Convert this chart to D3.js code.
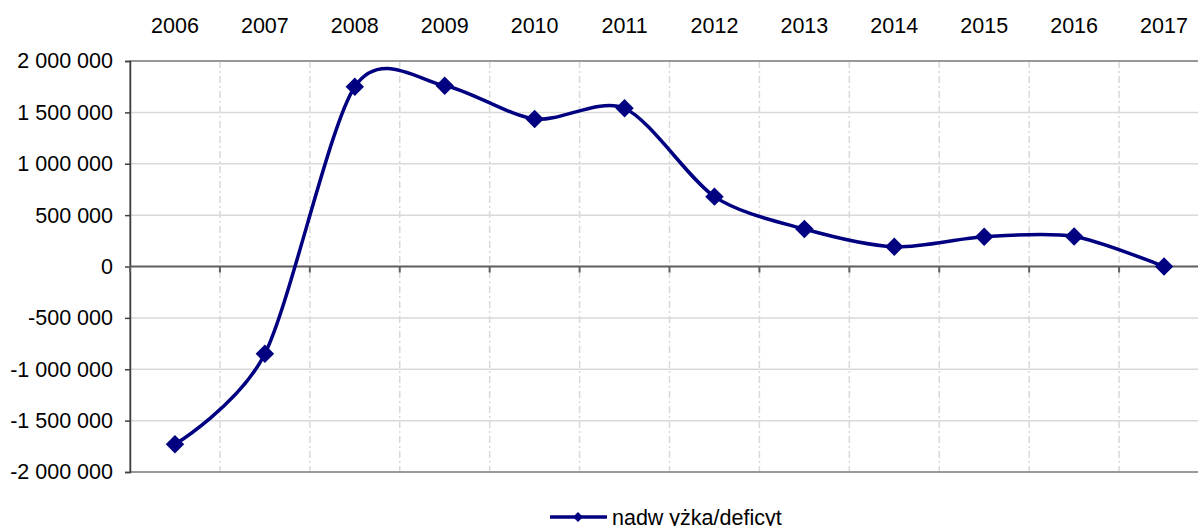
<!DOCTYPE html>
<html>
<head>
<meta charset="utf-8">
<script src="https://cdn.jsdelivr.net/npm/d3@7"></script>
<style>
  body { margin: 0; background: #fff; overflow: hidden; }
  text { font-family: "Liberation Sans", Arial, sans-serif; fill: #000; }
</style>
</head>
<body>
<script>
// data
var years = ["2006", "2007", "2008", "2009", "2010", "2011", "2012", "2013", "2014", "2015", "2016", "2017"];
var values = [-1730000, -850000, 1750000, 1760000, 1435000, 1540000, 680000, 365000, 192000, 290000, 292000, 0];
var yTicks = [-2000000, -1500000, -1000000, -500000, 0, 500000, 1000000, 1500000, 2000000];
var seriesName = "nadw yżka/deficyt";

var width = 1198, height = 526;
var margin = {top: 61, left: 130, right: -11, bottom: 54};
var innerWidth = width - margin.left - margin.right;
var innerHeight = height - margin.top - margin.bottom;
var navy = "#000080";

var svg = d3.select("body").append("svg")
    .attr("width", width)
    .attr("height", height);

const g = svg.append("g")
    .attr("transform", "translate(" + margin.left + "," + margin.top + ")");

//Scales
var x = d3.scaleBand().domain(years).range([0, innerWidth]);
var y = d3.scaleLinear().domain([-2000000, 2000000]).range([innerHeight, 0]);

var fmt = d3.formatLocale({decimal: ",", thousands: " ", grouping: [3], currency: ["", ""], minus: "-"}).format(",");

//Gridlines
g.append("g").selectAll("line").data(yTicks).enter().append("line")
    .attr("x1", 0).attr("x2", innerWidth)
    .attr("y1", d => y(d)).attr("y2", d => y(d))
    .attr("stroke", "#d9d9d9").attr("stroke-width", 1.5);

g.append("g").selectAll("line").data(years.slice(1)).enter().append("line")
    .attr("x1", d => x(d)).attr("x2", d => x(d))
    .attr("y1", 0).attr("y2", innerHeight)
    .attr("stroke", "#d9d9d9").attr("stroke-width", 1.5)
    .attr("stroke-dasharray", "7,3,2,3");

//Plot border
g.append("rect")
    .attr("width", innerWidth).attr("height", innerHeight)
    .attr("fill", "none").attr("stroke", "#808080").attr("stroke-width", 1.5);

//Y axis
var yAxis = g.append("g")
    .call(d3.axisLeft(y).tickValues(yTicks).tickSize(5).tickPadding(12).tickFormat(fmt));
yAxis.select(".domain").attr("stroke", "#404040").attr("stroke-width", 1.5);
yAxis.selectAll(".tick line").attr("stroke", "#404040").attr("stroke-width", 1.5);
yAxis.selectAll("text").attr("font-size", 21.5).attr("font-family", "Liberation Sans, Arial, sans-serif");

//Zero line with ticks at category boundaries
g.append("line")
    .attr("x1", 0).attr("x2", innerWidth)
    .attr("y1", y(0)).attr("y2", y(0))
    .attr("stroke", "#606060").attr("stroke-width", 2);
g.append("g").selectAll("line").data(years).enter().append("line")
    .attr("x1", d => x(d)).attr("x2", d => x(d))
    .attr("y1", y(0)).attr("y2", y(0) + 6)
    .attr("stroke", "#606060").attr("stroke-width", 2);

//Category labels on top
var xAxis = g.append("g")
    .call(d3.axisTop(x).tickSize(0).tickPadding(28));
xAxis.select(".domain").remove();
xAxis.selectAll("text").attr("font-size", 21.5).attr("font-family", "Liberation Sans, Arial, sans-serif");

//Series
var pts = years.map((d, i) => [x(d) + x.bandwidth() / 2, y(values[i])]);
var line = d3.line().curve(d3.curveCardinal.tension(0.15));

g.append("path")
    .attr("d", line(pts))
    .attr("fill", "none")
    .attr("stroke", navy)
    .attr("stroke-width", 3.5);

var diamond = d3.symbol().type(d3.symbolSquare).size(170);
g.selectAll(".marker").data(pts).enter().append("path")
    .attr("class", "marker")
    .attr("d", diamond)
    .attr("fill", navy)
    .attr("transform", d => "translate(" + d[0] + "," + d[1] + ") rotate(45)");

//Legend
var lg = svg.append("g").attr("transform", "translate(550,517)");
lg.append("line").attr("x1", 0).attr("x2", 57).attr("stroke", navy).attr("stroke-width", 3.5);
lg.append("path").attr("d", d3.symbol().type(d3.symbolSquare).size(50)).attr("fill", navy)
    .attr("transform", "translate(28,0) rotate(45)");
lg.append("text").attr("x", 62).attr("y", 8).attr("font-size", 21.5).text(seriesName);
</script>
</body>
</html>
